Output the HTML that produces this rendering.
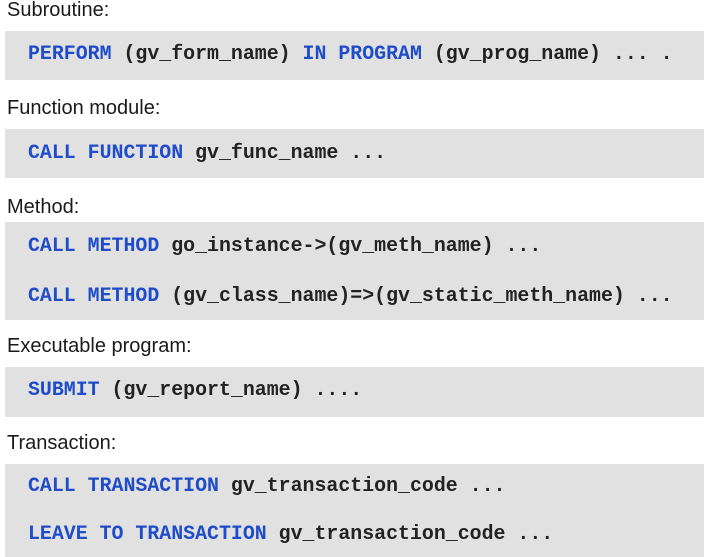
<!DOCTYPE html>
<html><head><style>
body{margin:0;width:711px;height:557px;background:#fff;position:relative;overflow:hidden}
.l{position:absolute;left:7px;font:20px "Liberation Sans",sans-serif;color:#1a1a1a;line-height:24px}
.b{position:absolute;left:5px;width:699px;background:#e1e1e1}
.c{position:absolute;left:28px;font:bold 19.9px "Liberation Mono",monospace;color:#222;line-height:24px;white-space:pre}
.k{color:#1f4cc9}
</style></head><body>
<div class="l" style="top:-2px">Subroutine:</div>
<div class="b" style="top:31px;height:49px"></div>
<div class="c" style="top:42px"><span class="k">PERFORM</span> (gv_form_name) <span class="k">IN PROGRAM</span> (gv_prog_name) ... .</div>
<div class="l" style="top:96px">Function module:</div>
<div class="b" style="top:129px;height:49px"></div>
<div class="c" style="top:141px"><span class="k">CALL FUNCTION</span> gv_func_name ...</div>
<div class="l" style="top:195px">Method:</div>
<div class="b" style="top:222px;height:98px"></div>
<div class="c" style="top:234px"><span class="k">CALL METHOD</span> go_instance-&gt;(gv_meth_name) ...</div>
<div class="c" style="top:284px"><span class="k">CALL METHOD</span> (gv_class_name)=&gt;(gv_static_meth_name) ...</div>
<div class="l" style="top:334px">Executable program:</div>
<div class="b" style="top:367px;height:50px"></div>
<div class="c" style="top:378px"><span class="k">SUBMIT</span> (gv_report_name) ....</div>
<div class="l" style="top:431px">Transaction:</div>
<div class="b" style="top:464px;height:93px"></div>
<div class="c" style="top:474px"><span class="k">CALL TRANSACTION</span> gv_transaction_code ...</div>
<div class="c" style="top:522px"><span class="k">LEAVE TO TRANSACTION</span> gv_transaction_code ...</div>
</body></html>
